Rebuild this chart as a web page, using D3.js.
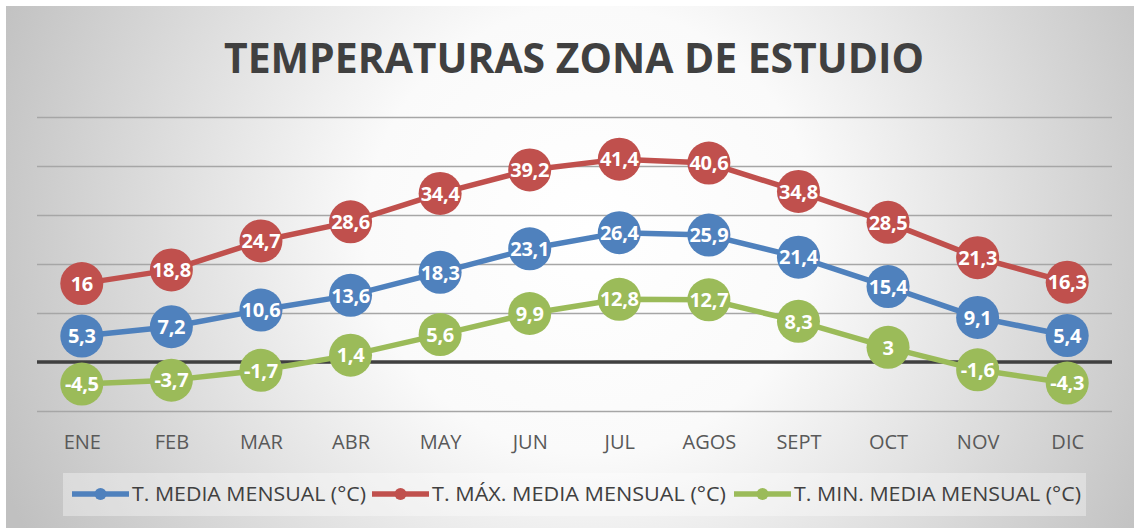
<!DOCTYPE html>
<html>
<head>
<meta charset="utf-8">
<script src="https://cdn.jsdelivr.net/npm/d3@7"></script>
<style>
  body { margin: 0; background: #fff; }
  svg { display: block; font-family: "Open Sans", sans-serif; }
</style>
</head>
<body>
<script>
// datos
var meses = ["ENE", "FEB", "MAR", "ABR", "MAY", "JUN", "JUL", "AGOS", "SEPT", "OCT", "NOV", "DIC"];
var tMedia = [5.3, 7.2, 10.6, 13.6, 18.3, 23.1, 26.4, 25.9, 21.4, 15.4, 9.1, 5.4];
var tMax = [16, 18.8, 24.7, 28.6, 34.4, 39.2, 41.4, 40.6, 34.8, 28.5, 21.3, 16.3];
var tMin = [-4.5, -3.7, -1.7, 1.4, 5.6, 9.9, 12.8, 12.7, 8.3, 3, -1.6, -4.3];
var yTicks = [-10, 0, 10, 20, 30, 40, 50];

var series = [
  { name: "T. MEDIA MENSUAL (°C)", values: tMedia, color: "#4f81bd" },
  { name: "T. MÁX. MEDIA MENSUAL (°C)", values: tMax, color: "#c0504d" },
  { name: "T. MIN. MEDIA MENSUAL (°C)", values: tMin, color: "#9bbb59" }
];

var W = 1134, H = 528;
var plot = { left: 37, right: 1112, top: 117, bottom: 411 };

var svg = d3.select("body").append("svg")
  .attr("width", W)
  .attr("height", H);

var defs = svg.append("defs");
var grad = defs.append("radialGradient")
  .attr("id", "bg")
  .attr("gradientUnits", "userSpaceOnUse")
  .attr("cx", 590).attr("cy", 230).attr("r", 640);
grad.append("stop").attr("offset", "0%").attr("stop-color", "#ffffff");
grad.append("stop").attr("offset", "35%").attr("stop-color", "#fafafa");
grad.append("stop").attr("offset", "100%").attr("stop-color", "#c0c0c0");

svg.append("rect")
  .attr("x", 6).attr("y", 6)
  .attr("width", W - 6).attr("height", H - 6)
  .attr("fill", "url(#bg)");

var x = d3.scalePoint()
  .domain(meses)
  .range([plot.left, plot.right])
  .padding(0.5);

var y = d3.scaleLinear()
  .domain([-10, 50])
  .range([plot.bottom, plot.top]);

// gridlines
var grid = svg.append("g")
  .attr("transform", "translate(" + plot.left + ",0)")
  .call(d3.axisLeft(y).tickValues(yTicks).tickSize(-(plot.right - plot.left)).tickFormat(""));
grid.select(".domain").remove();
grid.selectAll(".tick line")
  .attr("stroke", "#a6a6a6")
  .attr("stroke-width", 1.5);

// eje cero
svg.append("line")
  .attr("x1", plot.left).attr("x2", plot.right)
  .attr("y1", y(0)).attr("y2", y(0))
  .attr("stroke", "#404040")
  .attr("stroke-width", 3.5);

// etiquetas de meses
var xAxis = svg.append("g")
  .attr("transform", "translate(0," + plot.bottom + ")")
  .call(d3.axisBottom(x).tickSize(0).tickPadding(24));
xAxis.select(".domain").remove();
xAxis.selectAll("text")
  .attr("font-size", 20)
  .attr("font-family", "'Open Sans', sans-serif")
  .attr("fill", "#595959");

var line = d3.line()
  .x(function (d, i) { return x(meses[i]); })
  .y(function (d) { return y(d); });

var fmt = function (v) { return String(v).replace(".", ","); };

series.forEach(function (s) {
  var g = svg.append("g");
  g.append("path")
    .datum(s.values)
    .attr("d", line)
    .attr("fill", "none")
    .attr("stroke", s.color)
    .attr("stroke-width", 5.5)
    .attr("stroke-linejoin", "round");

  g.selectAll("circle")
    .data(s.values)
    .enter().append("circle")
    .attr("cx", function (d, i) { return x(meses[i]); })
    .attr("cy", function (d) { return y(d); })
    .attr("r", 21.5)
    .attr("fill", s.color);

  g.selectAll("text")
    .data(s.values)
    .enter().append("text")
    .attr("x", function (d, i) { return x(meses[i]); })
    .attr("y", function (d) { return y(d); })
    .attr("dy", "0.36em")
    .attr("text-anchor", "middle")
    .attr("font-size", 20)
    .attr("font-weight", "bold")
    .attr("letter-spacing", -0.3)
    .attr("fill", "#ffffff")
    .text(fmt);
});

// titulo
svg.append("text")
  .attr("x", 574)
  .attr("y", 73)
  .attr("text-anchor", "middle")
  .attr("font-size", 42)
  .attr("font-weight", "bold")
  .attr("fill", "#404040")
  .attr("textLength", 700)
  .attr("lengthAdjust", "spacingAndGlyphs")
  .text("TEMPERATURAS ZONA DE ESTUDIO");

// leyenda
svg.append("rect")
  .attr("x", 63).attr("y", 473)
  .attr("width", 1023).attr("height", 43)
  .attr("fill", "#ffffff")
  .attr("fill-opacity", 0.35);

var legX = [72, 372, 734];
var legW = [234, 294, 287];
series.forEach(function (s, i) {
  var lg = svg.append("g").attr("transform", "translate(" + legX[i] + ",494)");
  lg.append("line")
    .attr("x1", 0).attr("x2", 57)
    .attr("stroke", s.color)
    .attr("stroke-width", 5.5);
  lg.append("circle")
    .attr("cx", 28.5).attr("r", 6)
    .attr("fill", s.color);
  lg.append("text")
    .attr("x", 60)
    .attr("dy", "0.36em")
    .attr("font-size", 20)
    .attr("fill", "#404040")
    .attr("textLength", legW[i])
    .attr("lengthAdjust", "spacingAndGlyphs")
    .text(s.name);
});
</script>
</body>
</html>
